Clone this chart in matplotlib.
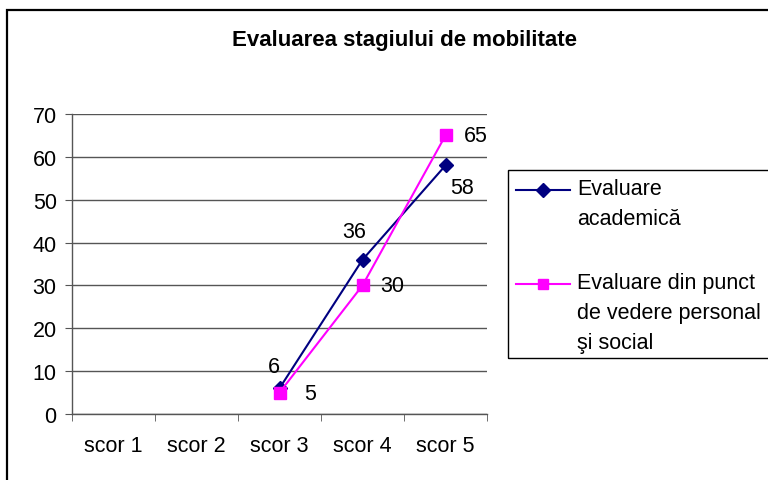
import numpy as np
import matplotlib
matplotlib.use("Agg")
import matplotlib.pyplot as plt
from matplotlib.patches import Rectangle
from matplotlib.lines import Line2D

plt.rcParams['font.family'] = ['Liberation Sans', 'DejaVu Sans']

categories = ["scor 1", "scor 2", "scor 3", "scor 4", "scor 5"]
academica = [np.nan, np.nan, 6, 36, 58]
personal = [np.nan, np.nan, 5, 30, 65]
series_names = ["Evaluare\nacademică", "Evaluare din punct\nde vedere personal\nşi social"]
title = "Evaluarea stagiului de mobilitate"
yticks = [0, 10, 20, 30, 40, 50, 60, 70]

FS = 15.5
W, H = 768, 481
fig = plt.figure(figsize=(W / 100, H / 100), dpi=100)
ax = fig.add_axes([72 / W, 1 - 415 / H, (487 - 72) / W, 300 / H])

x = np.arange(len(categories))
c1, c2 = '#000080', '#FF00FF'
l1, = ax.plot(x, academica, color=c1, marker='D', markersize=7.5, lw=1.5, zorder=3)
l2, = ax.plot(x, personal, color=c2, marker='s', markersize=8, lw=1.5, zorder=4)

# data labels
offs1 = [None, None, (-4, 16), (-6, 20), (12, -16)]
offs2 = [None, None, (22, -1), (21.5, 0), (21.5, 0)]
for xi, v, o in zip(x, academica, offs1):
    if not np.isnan(v):
        ax.annotate(f"{int(v)}", (xi, v), xytext=o, textcoords='offset points',
                    ha='center', va='center', fontsize=FS)
for xi, v, o in zip(x, personal, offs2):
    if not np.isnan(v):
        ax.annotate(f"{int(v)}", (xi, v), xytext=o, textcoords='offset points',
                    ha='center', va='center', fontsize=FS)

ax.set_xlim(-0.5, len(categories) - 0.5)
ax.set_ylim(0, 70)
ax.set_yticks(yticks)
ax.set_xticks(x)
ax.set_xticklabels(categories)
ax.set_xticks(np.arange(len(categories) + 1) - 0.5, minor=True)
ax.tick_params(axis='x', which='major', length=0, labelsize=FS, pad=15)
ax.tick_params(axis='x', which='minor', length=5, color='#555555', direction='out')
ax.tick_params(axis='y', length=5, color='#555555', labelsize=FS, pad=6)
ax.grid(axis='y', color='#555555', lw=1)
ax.set_axisbelow(True)
for s in ['top', 'right']:
    ax.spines[s].set_visible(False)
for s in ['left', 'bottom']:
    ax.spines[s].set_color('#555555')
    ax.spines[s].set_linewidth(1)

fig.text(405 / W, 1 - 41 / H, title, ha='center', va='center', fontsize=16, fontweight='bold')

# legend (drawn manually to match layout: handle aligned with first text line)
def fx(px):
    return px / W

def fy(py):
    return 1 - py / H

fig.patches.append(Rectangle((fx(508), fy(359)), 1.0, (359 - 171) / H, transform=fig.transFigure,
                             fill=False, edgecolor='black', lw=1))
entries = [(l1, series_names[0], 191), (l2, series_names[1], 285)]
for line, name, yline in entries:
    fig.add_artist(Line2D([fx(516), fx(570)], [fy(yline), fy(yline)], transform=fig.transFigure,
                          color=line.get_color(), lw=1.5))
    fig.add_artist(Line2D([fx(543)], [fy(yline)], transform=fig.transFigure,
                          color=line.get_color(), marker=line.get_marker(),
                          markersize=line.get_markersize() - 0.5, lw=0))
    fig.text(fx(577), fy(yline - 12), name, ha='left', va='top', fontsize=FS, linespacing=1.57)

# outer chart border
fig.patches.append(Rectangle((7 / W, -0.1), 1.2, 1 - 11 / H + 0.1, transform=fig.transFigure,
                             fill=False, edgecolor='black', lw=1.6))

fig.savefig("out.png", dpi=100)
